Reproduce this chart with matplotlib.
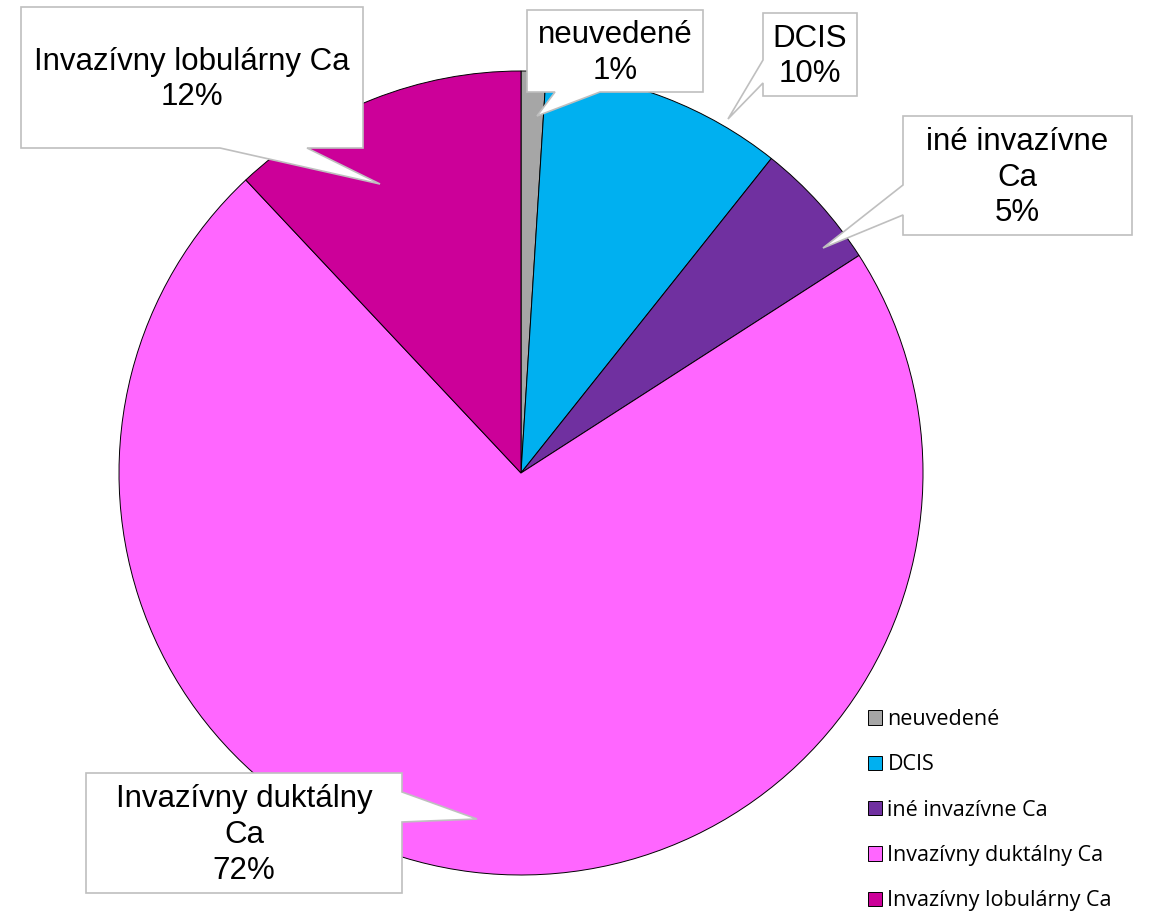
import matplotlib
matplotlib.use("Agg")
import matplotlib.pyplot as plt
from matplotlib.patches import Polygon

# data (share in %)
categories = ["neuvedené", "DCIS", "iné invazívne Ca",
              "Invazívny duktálny Ca", "Invazívny lobulárny Ca"]
values = [1.0, 9.7, 5.2, 72.1, 12.0]
colors = ["#A6A6A6", "#00B0F0", "#7030A0", "#FF66FF", "#CC0099"]
# how the callout text wraps
callout_names = ["neuvedené", "DCIS", "iné invazívne\nCa",
                 "Invazívny duktálny\nCa", "Invazívny lobulárny Ca"]

W, H = 1153, 911
fig = plt.figure(figsize=(W / 100, H / 100), dpi=100)
ax = fig.add_axes([0, 0, 1, 1])


def py(y):
    # image pixel row -> axes y
    return H - y


wedges, _ = ax.pie(values, colors=colors, startangle=90, counterclock=False,
                   center=(521, py(473)), radius=402, frame=True,
                   wedgeprops=dict(edgecolor="black", linewidth=0.7))
ax.set_xlim(0, W)
ax.set_ylim(0, H)
ax.set_aspect("equal")
ax.axis("off")

# callout boxes: (left, top, right, bottom), side of pointer, pointer base, tip
callouts = [
    ((527, 10, 703, 92), "bottom", (555, 600), (537, 116)),
    ((763, 13, 857, 96), "left", (60, 83), (728, 119)),
    ((903, 116, 1132, 235), "left", (185, 215), (823, 248)),
    ((86, 773, 402, 893), "right", (792, 822), (477, 819)),
    ((21, 7, 363, 148), "bottom", (220, 307), (380, 184)),
]

for name, val, (box, side, base, tip) in zip(callout_names, values, callouts):
    l, t, r, b = box
    if side == "bottom":
        pts = [(l, t), (r, t), (r, b), (base[1], b), tip, (base[0], b), (l, b)]
    elif side == "left":
        pts = [(l, t), (r, t), (r, b), (l, b), (l, base[1]), tip, (l, base[0])]
    else:
        pts = [(l, t), (r, t), (r, base[0]), tip, (r, base[1]), (r, b), (l, b)]
    pts = [(x, py(y)) for x, y in pts]
    ax.add_patch(Polygon(pts, closed=True, facecolor="white",
                         edgecolor="#BFBFBF", linewidth=1.2, zorder=3))
    ax.text((l + r) / 2, py((t + b) / 2 + 2), f"{name}\n{round(val)}%",
            ha="center", va="center", fontsize=22.5, family="Liberation Sans",
            linespacing=1.25, zorder=4)

fig.legend(wedges, categories, loc="upper left",
           bbox_to_anchor=(868 / W, 1 - 709 / H), frameon=False,
           prop=dict(family="Open Sans", size=15.5),
           handlelength=0.65, handleheight=0.65, handletextpad=0.25,
           labelspacing=1.13, borderpad=0, borderaxespad=0)

fig.savefig("out.png", dpi=100)
